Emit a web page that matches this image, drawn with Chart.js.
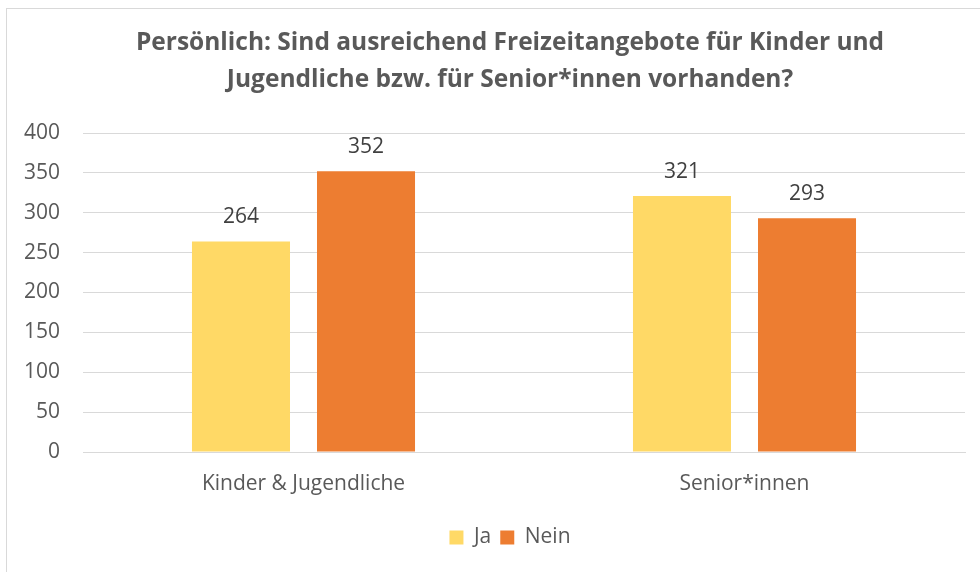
<!DOCTYPE html>
<html>
<head>
<meta charset="utf-8">
<script src="https://cdn.jsdelivr.net/npm/chart.js@4/dist/chart.umd.min.js"></script>
<style>
  html, body { margin: 0; padding: 0; background: #fff; }
  #wrap { position: relative; width: 980px; height: 572px; overflow: hidden; }
  #frame { position: absolute; left: 6px; top: 8px; width: 1000px; height: 600px; border: 1px solid #d9d9d9; box-sizing: border-box; }
  canvas { position: absolute; left: 0; top: 0; }
</style>
</head>
<body>
<div id="wrap">
  <div id="frame"></div>
  <canvas id="c" width="1020" height="572"></canvas>
</div>
<script>
const titleLines = ["Persönlich: Sind ausreichend Freizeitangebote für Kinder und", "Jugendliche bzw. für Senior*innen vorhanden?"];
const categories = ["Kinder & Jugendliche", "Senior*innen"];
const seriesNames = ["Ja", "Nein"];
const jaValues = [264, 321];
const neinValues = [352, 293];
const yTicks = [0, 50, 100, 150, 200, 250, 300, 350, 400];

const FONT = "'Open Sans', 'Liberation Sans', sans-serif";

const valueLabels = {
  id: 'valueLabels',
  afterDatasetsDraw(chart) {
    const ctx = chart.ctx;
    ctx.save();
    ctx.font = "21px " + FONT;
    ctx.fillStyle = '#404040';
    ctx.textAlign = 'center';
    ctx.textBaseline = 'middle';
    chart.data.datasets.forEach((ds, i) => {
      chart.getDatasetMeta(i).data.forEach((bar, j) => {
        ctx.fillText(String(ds.data[j]), bar.x, bar.y - 24);
      });
    });
    ctx.restore();
  }
};

Chart.defaults.font.family = FONT;
Chart.defaults.color = '#595959';

new Chart(document.getElementById('c'), {
  type: 'bar',
  data: {
    labels: categories,
    datasets: [
      { label: seriesNames[0], data: jaValues, backgroundColor: '#FFD966', categoryPercentage: 0.567, barPercentage: 0.784 },
      { label: seriesNames[1], data: neinValues, backgroundColor: '#ED7D31', categoryPercentage: 0.567, barPercentage: 0.784 }
    ]
  },
  options: {
    responsive: false,
    animation: false,
    devicePixelRatio: 1,
    layout: { padding: { left: 0, right: 0, top: 0, bottom: 14 } },
    plugins: {
      title: {
        display: true,
        text: titleLines,
        color: '#595959',
        font: { size: 24.5, weight: 'bold', family: FONT, lineHeight: 1.5 },
        padding: { top: 25, bottom: 34.5 }
      },
      legend: {
        position: 'bottom',
        labels: {
          boxWidth: 14, boxHeight: 14, padding: 9,
          color: '#595959',
          font: { size: 21, family: FONT }
        }
      },
      tooltip: { enabled: false }
    },
    scales: {
      x: {
        grid: { display: false, drawTicks: false },
        border: { display: true, color: '#d9d9d9', width: 1 },
        ticks: { color: '#595959', font: { size: 21 }, padding: 19 },
        afterFit(s) { s.height = 66; }
      },
      y: {
        min: 0, max: 400,
        afterBuildTicks(s) { s.ticks = yTicks.map(v => ({ value: v })); },
        grid: { color: '#d9d9d9', drawTicks: false, lineWidth: 1 },
        border: { display: false },
        ticks: { color: '#595959', font: { size: 21 }, padding: 23 },
        afterFit(s) { s.width = 83; }
      },
      yRight: {
        position: 'right',
        min: 0, max: 400,
        grid: { display: false, drawTicks: false },
        border: { display: false },
        ticks: { display: false },
        afterFit(s) { s.width = 55; }
      }
    }
  },
  plugins: [valueLabels]
});
</script>
</body>
</html>
